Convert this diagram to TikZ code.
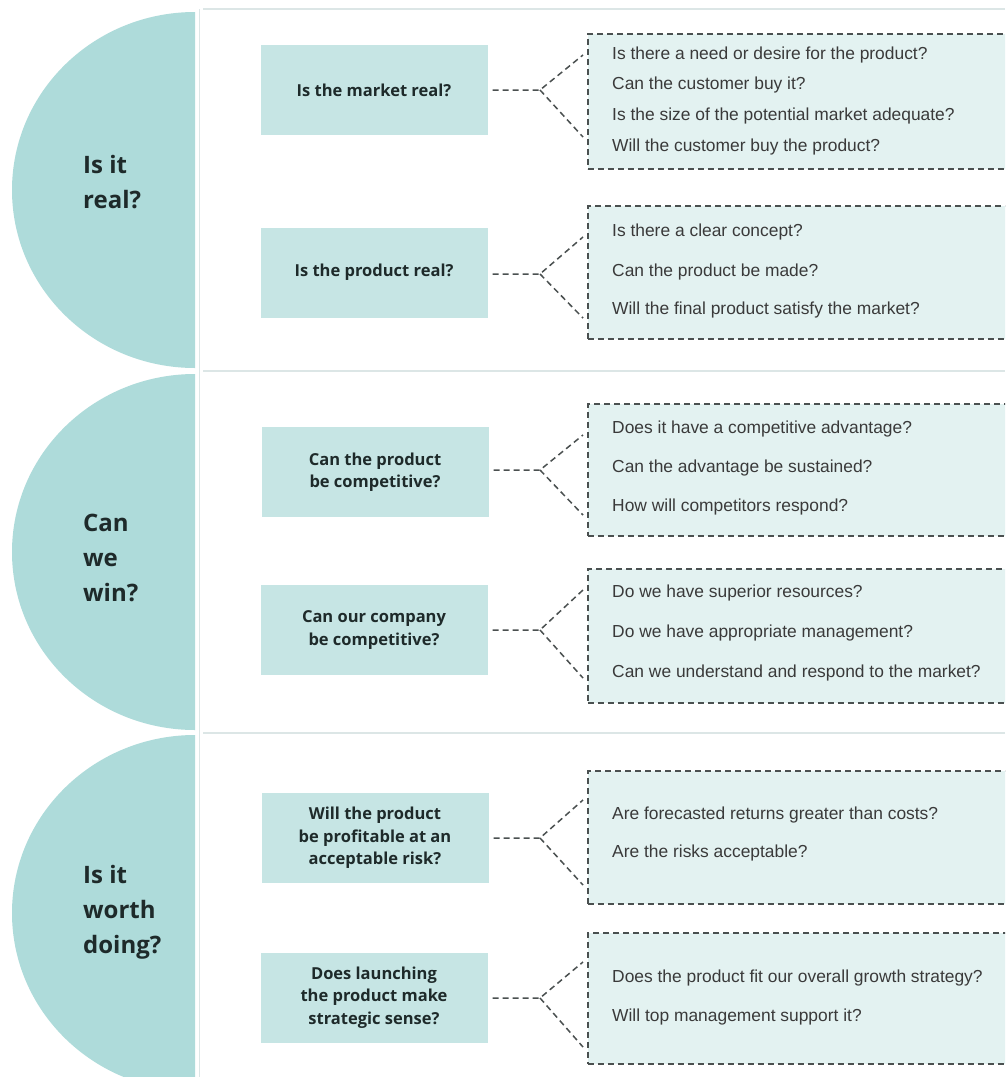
\documentclass[tikz,border=0pt]{standalone}
\usepackage{fontspec}
\setmainfont{Liberation Sans}
\newfontfamily\hfont{Open Sans}
\definecolor{cCirc}{HTML}{AEDBDA}
\definecolor{cQ}{HTML}{C6E5E4}
\definecolor{cA}{HTML}{E3F2F1}
\definecolor{cDash}{HTML}{4A5050}
\definecolor{cSep}{HTML}{DCE6E6}
\definecolor{cTxt}{HTML}{1E2A2A}
\definecolor{cTxt2}{HTML}{3A3A3A}
\tikzset{
  halfc/.style={fill=cCirc},
  sepl/.style={draw=cSep, line width=1.2pt},
  bigq/.style={anchor=west, align=left, text=cTxt, inner sep=0pt,
    font=\hfont\bfseries\fontsize{24}{35}\selectfont},
  qbox/.style={rectangle, fill=cQ, minimum width=227pt, minimum height=90pt,
    inner sep=0pt, align=center, text=cTxt,
    font=\hfont\bfseries\fontsize{16.5}{22.5}\selectfont},
  abox/.style={rectangle, draw=cDash, dash pattern=on 6pt off 4pt, line width=1.5pt,
    fill=cA, anchor=north west, minimum width=425pt, inner sep=0pt},
  ans/.style={anchor=west, inner sep=0pt, text=cTxt2, text height=12pt, text depth=3.5pt,
    font=\fontsize{17.4}{20}\selectfont},
  conn/.style={draw=cDash, dash pattern=on 6pt off 4pt, line width=1.5pt}
}
\begin{document}
\begin{tikzpicture}[x=1pt,y=-1pt]
\useasboundingbox (0,0) rectangle (1005,1077);
\clip (0,0) rectangle (1005,1077);
\fill[white] (0,0) rectangle (1005,1077);

% separators
\draw[sepl] (203,9) -- (1005,9);
\draw[sepl] (203,371) -- (1005,371);
\draw[sepl] (203,733) -- (1005,733);
\draw[draw=cSep, line width=0.8pt] (199.5,9) -- (199.5,1077);

% half circles
\fill[halfc] (195,12) arc[start angle=-90, end angle=-270, x radius=183, y radius=178] -- cycle;
\fill[halfc] (195,374) arc[start angle=-90, end angle=-270, x radius=183, y radius=178] -- cycle;
\fill[halfc] (195,735) arc[start angle=-90, end angle=-270, x radius=183, y radius=178] -- cycle;

\node[bigq] (c1) at (83,182) {Is it\\real?};
\node[bigq] (c2) at (83,558) {Can\\we\\win?};
\node[bigq] (c3) at (83,912) {Is it\\worth\\doing?};

% question boxes
\node[qbox] (q1) at (374,90) {Is the market real?};
\node[qbox] (q2) at (374,272.5) {Is the product real?};
\node[qbox] (q3) at (375,472) {Can the product\\be competitive?};
\node[qbox] (q4) at (374,630) {Can our company\\be competitive?};
\node[qbox] (q5) at (375,838) {Will the product\\be profitable at an\\acceptable risk?};
\node[qbox] (q6) at (374,997.5) {Does launching\\the product make\\strategic sense?};

% answer boxes
\node[abox, minimum height=135pt] (r1) at (587,33) {};
\node[abox, minimum height=133pt] (r2) at (587,205) {};
\node[abox, minimum height=132pt] (r3) at (587,403) {};
\node[abox, minimum height=134pt] (r4) at (587,568) {};
\node[abox, minimum height=133pt] (r5) at (587,770) {};
\node[abox, minimum height=131pt] (r6) at (587,932) {};

% answer texts
\node[ans] (t11) at (612,55) {Is there a need or desire for the product?};
\node[ans] (t12) at (612,85) {Can the customer buy it?};
\node[ans] (t13) at (612,116) {Is the size of the potential market adequate?};
\node[ans] (t14) at (612,147) {Will the customer buy the product?};
\node[ans] (t21) at (612,232) {Is there a clear concept?};
\node[ans] (t22) at (612,272) {Can the product be made?};
\node[ans] (t23) at (612,310) {Will the final product satisfy the market?};
\node[ans] (t31) at (612,429) {Does it have a competitive advantage?};
\node[ans] (t32) at (612,468) {Can the advantage be sustained?};
\node[ans] (t33) at (612,507) {How will competitors respond?};
\node[ans] (t41) at (612,593) {Do we have superior resources?};
\node[ans] (t42) at (612,633) {Do we have appropriate management?};
\node[ans] (t43) at (612,673) {Can we understand and respond to the market?};
\node[ans] (t51) at (612,815) {Are forecasted returns greater than costs?};
\node[ans] (t52) at (612,853) {Are the risks acceptable?};
\node[ans] (t61) at (612,978) {Does the product fit our overall growth strategy?};
\node[ans] (t62) at (612,1017) {Will top management support it?};

% connectors
\coordinate (s1) at (540,90);   \coordinate (u1) at (583,55);   \coordinate (d1) at (583,137);
\coordinate (s2) at (540,274);  \coordinate (u2) at (583,237);  \coordinate (d2) at (583,318);
\coordinate (s3) at (540,470);  \coordinate (u3) at (583,435);  \coordinate (d3) at (583,515);
\coordinate (s4) at (540,630);  \coordinate (u4) at (583,590);  \coordinate (d4) at (583,678);
\coordinate (s5) at (540,838);  \coordinate (u5) at (583,800);  \coordinate (d5) at (583,885);
\coordinate (s6) at (540,998);  \coordinate (u6) at (583,962);  \coordinate (d6) at (583,1047);
\foreach \i in {1,...,6}{
  \draw[conn, shorten <=5pt] (q\i.east |- s\i) -- (s\i) -- (u\i);
  \draw[conn] (s\i) -- (d\i);
}
\end{tikzpicture}
\end{document}
